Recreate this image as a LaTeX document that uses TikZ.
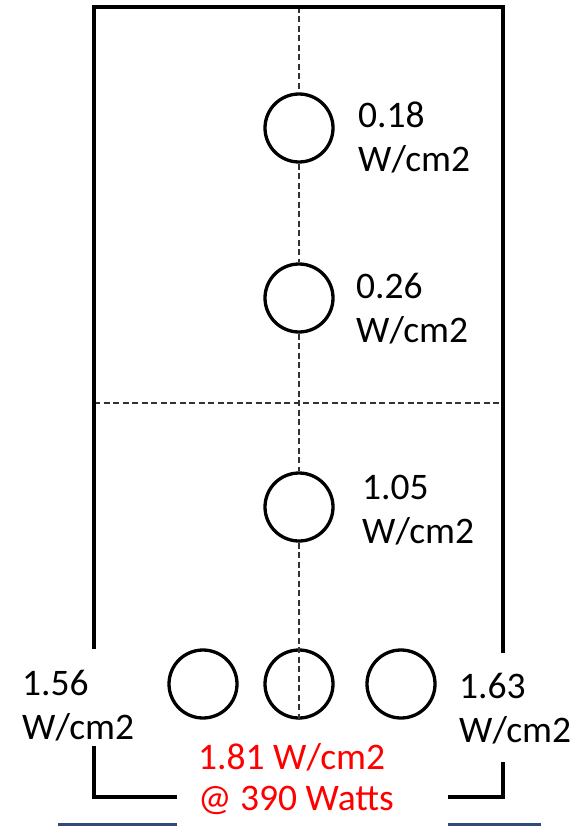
\documentclass[tikz,border=0pt]{standalone}
\usepackage{fontspec}
\setmainfont{Carlito}
\definecolor{navy}{RGB}{47,75,125}
\definecolor{dashgray}{RGB}{50,50,50}
\tikzset{
  hole/.style={circle, draw=black, line width=3.3pt, minimum size=68pt, inner sep=0pt},
  wall/.style={draw=black, line width=4pt, line join=miter},
  guide/.style={draw=dashgray, line width=1.5pt, dash pattern=on 6pt off 3.5pt},
  lbl/.style={anchor=base west, align=left, inner sep=0pt, font=\fontsize{37.5}{44}\selectfont},
  redlbl/.style={anchor=base west, align=left, inner sep=0pt, text=red, font=\fontsize{37.5}{41}\selectfont}
}
\begin{document}
\begin{tikzpicture}[x=1pt,y=-1pt]
\useasboundingbox (0,0) rectangle (573,826);
% coordinates
\coordinate (tl) at (94,7);
\coordinate (tr) at (503,7);
\coordinate (lgapA) at (94,649);
\coordinate (lgapB) at (94,746);
\coordinate (bl) at (94,797);
\coordinate (blend) at (177,797);
\coordinate (rgapA) at (503,653);
\coordinate (rgapB) at (503,762);
\coordinate (br) at (503,797);
\coordinate (brend) at (448,797);
\coordinate (vtop) at (299,7);
\coordinate (hl) at (94,403);
\coordinate (hr) at (503,403);
\coordinate (nl1) at (58,824);
\coordinate (nl2) at (177,824);
\coordinate (nr1) at (448,824);
\coordinate (nr2) at (541,824);
% circles
\node[hole] (c1) at (299,128) {};
\node[hole] (c2) at (299,298) {};
\node[hole] (c3) at (299,507) {};
\node[hole] (c4) at (203,684) {};
\node[hole] (c5) at (299,684) {};
\node[hole] (c6) at (401,684) {};
% dashed guides
\draw[guide] (vtop) -- (c1.north);
\draw[guide] (c1.south) -- (c2.north);
\draw[guide] (c2.south) -- (c3.north);
\draw[guide] (c3.south) -- (c5.south);
\draw[guide] (hl) -- (hr);
% walls
\draw[wall] (lgapA) -- (tl) -- (tr) -- (rgapA);
\draw[wall] (lgapB) -- (bl) -- (blend);
\draw[wall] (rgapB) -- (br) -- (brend);
% navy lines
\draw[navy, line width=3pt] (nl1) -- (nl2);
\draw[navy, line width=3pt] (nr1) -- (nr2);
% labels (anchor = baseline of the last line)
\node[lbl] (t1) at (358,172) {0.18\\W/cm2};
\node[lbl] (t2) at (356,342) {0.26\\W/cm2};
\node[lbl] (t3) at (362,543) {1.05\\W/cm2};
\node[lbl] (t4) at (22,739) {1.56\\W/cm2};
\node[lbl] (t5) at (459,742) {1.63\\W/cm2};
\node[redlbl] (t6) at (198,810) {1.81 W/cm2\\@ 390 Watts};
\end{tikzpicture}
\end{document}
